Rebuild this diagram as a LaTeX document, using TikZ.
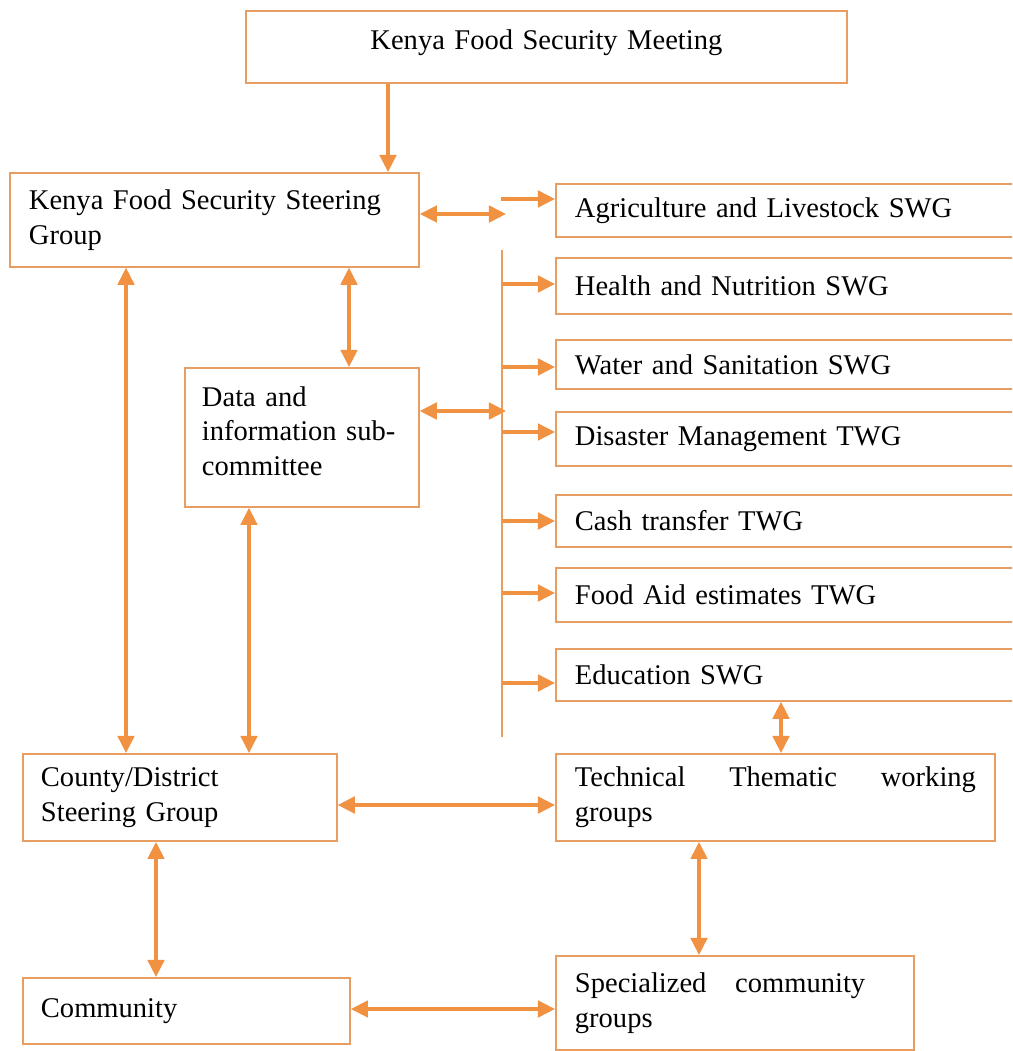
\documentclass[tikz,border=0pt]{standalone}
\usepackage{fontspec}
\setmainfont{Liberation Serif}
\usetikzlibrary{calc,arrows.meta}
\definecolor{boxline}{RGB}{232,158,98}
\definecolor{arrowline}{RGB}{240,146,66}

\begin{document}
\begin{tikzpicture}[x=0.41pt,y=-0.41pt,
	box/.style={draw=boxline,line width=0.75pt,anchor=north west,inner xsep=7.8pt,inner ysep=0pt,align=left,font=\fontsize{11.7}{14.2}\selectfont},
	arr/.style={draw=arrowline,line width=1.25pt,-{Triangle[length=7pt,width=6.8pt]}},
	dbl/.style={arr,{Triangle[length=7pt,width=6.8pt]}-{Triangle[length=7pt,width=6.8pt]}}]
		\useasboundingbox (0,0) rectangle (1012,1051);
		\clip (0,0) rectangle (1012,1051);
		
		%top boxes
		\node[box,align=center,text width=230.8pt,minimum height=29.5pt,text depth=6pt] (meeting) at (245,10) {Kenya Food Security Meeting};
		\node[box,text width=152.1pt,minimum height=38.5pt] (steer) at (9,172) {Kenya Food Security Steering\\Group};
		\node[box,inner xsep=7pt,text width=81.9pt,minimum height=57pt,text height=2.8pt] (data) at (184,367) {Data and\\information sub-\\committee};
		
		%working groups
		\foreach \n/\y/\h/\t in {agri/183/21.7/Agriculture and Livestock SWG,
			health/257/23/Health and Nutrition SWG,
			water/339/20.1/Water and Sanitation SWG,
			disaster/411/22.1/Disaster Management TWG,
			cash/494/21.3/Cash transfer TWG,
			foodaid/567/22.1/Food Aid estimates TWG,
			edu/648/21.3/Education SWG}{
			\node[box,text width=179.2pt,minimum height=\h pt] (\n) at (555,\y) {\t};
		}
		
		%lower boxes
		\node[box,inner xsep=7.4pt,text width=113.9pt,minimum height=35.7pt] (county) at (22,753) {County/District\\Steering Group};
		\node[box,text width=164.4pt,minimum height=35.7pt] (tech) at (555,753) {Technical\hfill Thematic\hfill working\\groups};
		\node[box,inner xsep=7.4pt,text width=119.3pt,minimum height=27.1pt] (community) at (22,977) {Community};
		\node[box,text width=131.2pt,minimum height=38.5pt] (spec) at (555,955) {\makebox[119pt][l]{Specialized\hfill community}\\groups};
		
		%bus
		\coordinate (bustop) at (502,250);
		\coordinate (busbot) at (502,737);
		\coordinate (a0) at (501,199);
		\coordinate (b1) at (506,214);
		\coordinate (b2) at (506,411);
		\draw[boxline,line width=0.8pt] (bustop) -- (busbot);
		
		%arrows:
		\draw[arr] (meeting.south -| 388,0) -- (steer.north -| 388,0);
		\draw[arr] (a0) -- (agri.west |- a0);
		\draw[dbl] (steer.east |- b1) -- (b1);
		\draw[dbl] (data.east |- b2) -- (b2);
		\foreach \n/\y in {health/284,water/367,disaster/432,cash/521,foodaid/593,edu/683}
			\draw[arr] (bustop |- 0,\y) -- (\n.west |- 0,\y);
		
		\draw[dbl] (steer.south -| 349,0) -- (data.north -| 349,0);
		\draw[dbl] (steer.south -| 126,0) -- (county.north -| 126,0);
		\draw[dbl] (data.south -| 249,0) -- (county.north -| 249,0);
		\draw[dbl] (edu.south -| 781,0) -- (tech.north -| 781,0);
		\draw[dbl] (county.east |- 0,805) -- (tech.west |- 0,805);
		\draw[dbl] (county.south -| 156,0) -- (community.north -| 156,0);
		\draw[dbl] (tech.south -| 699,0) -- (spec.north -| 699,0);
		\draw[dbl] (community.east |- 0,1009) -- (spec.west |- 0,1009);
		
\end{tikzpicture}
\end{document}
